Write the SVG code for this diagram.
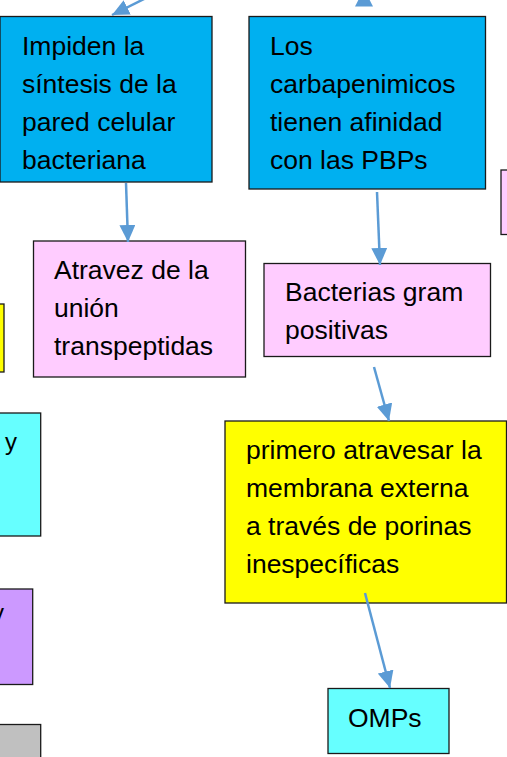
<svg xmlns="http://www.w3.org/2000/svg" width="507" height="757" viewBox="0 0 507 757">
<style>
.box{stroke:#1a1a1a;stroke-width:1.3}
.blue{fill:#00B0F0}
.pink{fill:#FFCCFF}
.yellow{fill:#FFFF00}
.cyan{fill:#66FFFF}
.purple{fill:#CC99FF}
.gray{fill:#C0C0C0}
.t{font-family:"Liberation Sans",Arial,sans-serif;font-size:26.5px;fill:#000}
.ty{font-family:"Liberation Sans",Arial,sans-serif;font-size:24px;fill:#000}
.c{stroke:#5B9BD5;stroke-width:2.5;fill:none;marker-end:url(#ah)}
</style>
<defs>
<marker id="ah" markerUnits="userSpaceOnUse" markerWidth="18" markerHeight="16" refX="17" refY="8" orient="auto">
<path d="M0,0 L17,8 L0,16 z" fill="#5B9BD5"/>
</marker>
</defs>
<rect width="507" height="757" fill="#fff"/>
<g id="partial-left-yellow"><rect class="box yellow" x="-10" y="304" width="14" height="68"/></g>
<g id="partial-left-cyan"><rect class="box cyan" x="-10" y="413" width="50.7" height="123"/><text class="ty" x="5" y="450">y</text></g>
<g id="partial-left-purple"><rect class="box purple" x="-10" y="589" width="42.7" height="95.5"/><text class="ty" x="-8" y="621">y</text></g>
<g id="partial-left-gray"><rect class="box gray" x="-10" y="724.5" width="50.7" height="50"/></g>
<g id="partial-right-pink"><rect class="box pink" x="501" y="170" width="20" height="64.5"/></g>
<g id="n1"><rect class="box blue" x="0" y="16.5" width="212" height="165.5"/>
<text class="t" x="22" y="55">Impiden la</text>
<text class="t" x="22" y="93">síntesis de la</text>
<text class="t" x="22" y="131">pared celular</text>
<text class="t" x="22" y="169">bacteriana</text></g>
<g id="n2"><rect class="box blue" x="249" y="16.5" width="236.5" height="172.5"/>
<text class="t" x="270" y="55">Los</text>
<text class="t" x="270" y="93">carbapenimicos</text>
<text class="t" x="270" y="131">tienen afinidad</text>
<text class="t" x="270" y="169">con las PBPs</text></g>
<g id="n3"><rect class="box pink" x="33.5" y="241" width="212" height="136"/>
<text class="t" x="54" y="279">Atravez de la</text>
<text class="t" x="54" y="317">unión</text>
<text class="t" x="54" y="355">transpeptidas</text></g>
<g id="n4"><rect class="box pink" x="264" y="263.5" width="226.5" height="93"/>
<text class="t" x="285" y="301">Bacterias gram</text>
<text class="t" x="285" y="339">positivas</text></g>
<g id="n5"><rect class="box yellow" x="225" y="421" width="281.5" height="182"/>
<text class="t" x="246" y="459">primero atravesar la</text>
<text class="t" x="246" y="497">membrana externa</text>
<text class="t" x="246" y="535">a través de porinas</text>
<text class="t" x="246" y="573">inespecíficas</text></g>
<g id="n6"><rect class="box cyan" x="328" y="688.5" width="121" height="65"/>
<text class="t" x="348" y="727">OMPs</text></g>
<g id="connectors">
<line class="c" x1="146" y1="-2" x2="112" y2="15"/>
<polygon points="355,6.5 373,6.5 364,-11" fill="#5B9BD5"/>
<line class="c" x1="126" y1="183" x2="128" y2="242"/>
<line class="c" x1="377" y1="192" x2="380" y2="265"/>
<line class="c" x1="374" y1="367" x2="389" y2="421"/>
<line class="c" x1="365" y1="593" x2="390" y2="688"/>
</g>
</svg>
